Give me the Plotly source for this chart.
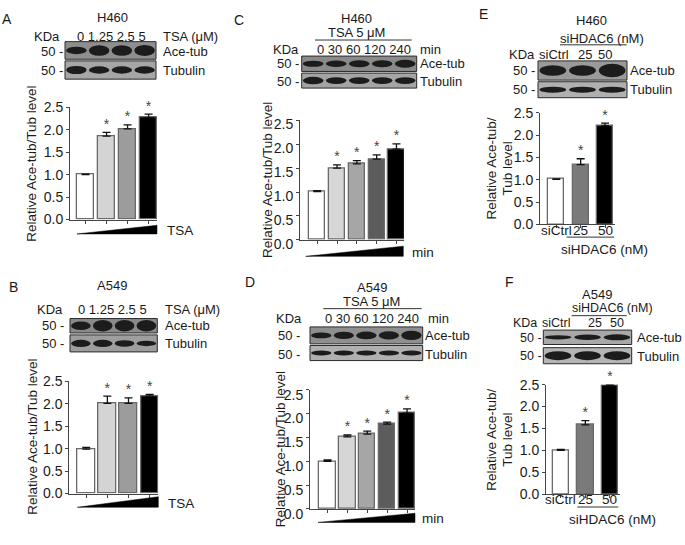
import plotly.graph_objects as go

W, H = 685, 545
def X(p): return p / W
def Y(p): return 1 - p / H

FONT = "Arial, 'Liberation Sans', sans-serif"
TXT = "#1a1a1a"

# ---------------- data ----------------
a_lanes = ["0", "1.25", "2.5", "5"]
a_vals = [1.00, 1.86, 2.02, 2.27]
a_err = [0.01, 0.08, 0.09, 0.08]

b_lanes = ["0", "1.25", "2.5", "5"]
b_vals = [0.99, 2.01, 2.01, 2.17]
b_err = [0.04, 0.16, 0.12, 0.04]

c_lanes = ["0", "30", "60", "120", "240"]
c_vals = [1.01, 1.50, 1.59, 1.69, 1.90]
c_err = [0.02, 0.07, 0.07, 0.09, 0.11]

d_lanes = ["0", "30", "60", "120", "240"]
d_vals = [1.00, 1.51, 1.57, 1.78, 2.01]
d_err = [0.03, 0.04, 0.06, 0.04, 0.09]

e_lanes = ["siCtrl", "25", "50"]
e_vals = [1.01, 1.34, 2.21]
e_err = [0.01, 0.13, 0.06]

f_lanes = ["siCtrl", "25", "50"]
f_vals = [1.00, 1.58, 2.47]
f_err = [0.02, 0.10, 0.03]

y_ticks = [0.0, 0.5, 1.0, 1.5, 2.0, 2.5]

tsa_colors = ["#ffffff", "#d4d4d4", "#9c9c9c", "#000000"]
time_colors = ["#ffffff", "#d6d6d6", "#a6a6a6", "#5c5c5c", "#000000"]
si_colors = ["#ffffff", "#7a7a7a", "#000000"]

# panel geometry (pixels): plot box and x range
panels = [
    dict(key="A", vals=a_vals, err=a_err, colors=tsa_colors, box=(70, 157, 103.3, 220), xr=(-0.74, 3.40), bw=0.81, shift=0),
    dict(key="B", vals=b_vals, err=b_err, colors=tsa_colors, box=(69.3, 158.3, 388.3, 505), xr=(-0.80, 3.41), bw=0.83, shift=0),
    dict(key="C", vals=c_vals, err=c_err, colors=time_colors, box=(300, 404, 117, 241), xr=(-0.87, 4.38), bw=0.81, shift=4),
    dict(key="D", vals=d_vals, err=d_err, colors=time_colors, box=(310, 415, 397, 521), xr=(-0.88, 4.40), bw=0.82, shift=5),
    dict(key="E", vals=e_vals, err=e_err, colors=si_colors, box=(540, 615, 109, 225), xr=(-0.67, 2.41), bw=0.67, shift=0),
    dict(key="F", vals=f_vals, err=f_err, colors=si_colors, box=(546, 620, 391.7, 505.7), xr=(-0.60, 2.41), bw=0.67, shift=0),
]

fig = go.Figure()
layout_axes = {}
for i, p in enumerate(panels, start=1):
    xa = "x" if i == 1 else f"x{i}"
    ya = "y" if i == 1 else f"y{i}"
    n = len(p["vals"])
    idx = list(range(n))
    fig.add_trace(go.Bar(
        x=idx, y=p["vals"], width=p["bw"], xaxis=xa, yaxis=ya,
        marker=dict(color=p["colors"], line=dict(color="#6a6a6a", width=1.3)),
        error_y=dict(type="data", array=p["err"], arrayminus=[0] * n, symmetric=False,
                     color="#111111", thickness=1.3, width=4),
        showlegend=False, cliponaxis=False, hoverinfo="skip"))
    sx = idx[1:]
    sy = [v + e for v, e in zip(p["vals"][1:], p["err"][1:])]
    fig.add_trace(go.Scatter(
        x=sx, y=sy, mode="text", text=["*"] * len(sx), textposition="top center",
        textfont=dict(size=14, color="#444444", family=FONT),
        xaxis=xa, yaxis=ya, showlegend=False, cliponaxis=False, hoverinfo="skip"))
    x0, x1, yt, yb = p["box"]
    xname = "xaxis" if i == 1 else f"xaxis{i}"
    yname = "yaxis" if i == 1 else f"yaxis{i}"
    layout_axes[xname] = dict(
        domain=[X(x0), X(x1)], range=list(p["xr"]), anchor=ya,
        showline=True, linecolor="#444444", linewidth=1, ticks="outside", ticklen=3,
        tickcolor="#444444", tickvals=idx, showticklabels=False,
        showgrid=False, zeroline=False, fixedrange=True)
    layout_axes[yname] = dict(
        domain=[Y(yb), Y(yt)], range=[0, 2.5], anchor=xa,
        tickvals=y_ticks, ticktext=[f"{t:.1f}" for t in y_ticks],
        showline=True, linecolor="#444444", linewidth=1, ticks="outside", ticklen=3,
        tickcolor="#444444", tickfont=dict(size=14, color=TXT, family=FONT),
        ticklabelshift=p["shift"],
        showgrid=False, zeroline=False, fixedrange=True)

shapes = []
annotations = []

def ann(text, x, y, size=13.5, xanchor="center", angle=0, color=TXT):
    annotations.append(dict(text=text, x=X(x), y=Y(y), xref="paper", yref="paper",
                            xanchor=xanchor, yanchor="middle", showarrow=False,
                            borderpad=0, borderwidth=0,
                            textangle=angle, font=dict(size=size, color=color, family=FONT)))

def hline(x0, x1, y, w=1):
    shapes.append(dict(type="line", xref="paper", yref="paper", x0=X(x0), x1=X(x1),
                       y0=Y(y), y1=Y(y), line=dict(color="#333333", width=w)))

def wedge(x0, x1, yt, yb):
    shapes.append(dict(type="path", xref="paper", yref="paper",
                       path=f"M {X(x0)},{Y(yb)} L {X(x1)},{Y(yb)} L {X(x1)},{Y(yt)} Z",
                       fillcolor="#000000", line=dict(color="#000000", width=0.5)))

def blot(x0, x1, y0, y1, bg, bands):
    shapes.append(dict(type="rect", xref="paper", yref="paper", x0=X(x0), x1=X(x1),
                       y0=Y(y1), y1=Y(y0), fillcolor=bg, line=dict(color="#2a2a2a", width=1)))
    n = len(bands)
    lw = (x1 - x0) / n
    cy = (y0 + y1) / 2
    for k, t in enumerate(bands):
        cx = x0 + lw * (k + 0.5)
        bw = lw * 0.9
        bh = (y1 - y0) * t
        shapes.append(dict(type="circle", xref="paper", yref="paper",
                           x0=X(cx - bw / 2), x1=X(cx + bw / 2),
                           y0=Y(cy + bh / 2), y1=Y(cy - bh / 2),
                           fillcolor="#1c1c1c", line=dict(width=0)))

# ---------- Panel A ----------
ann("A", 7, 11, 14)
ann("H460", 112, 10, 13)
ann("KDa", 47, 29.3, 13)
ann(" ".join(a_lanes), 111, 29.3, 13)
ann("TSA (μM)", 163, 29.3, 13, xanchor="left")
blot(65, 156, 35, 53.3, "#8e8e8e", [0.42, 0.6, 0.6, 0.62])
blot(65, 156, 55, 74, "#a6a6a6", [0.45, 0.4, 0.4, 0.4])
ann("50 -", 63, 45, 13, xanchor="right")
ann("50 -", 63, 65, 13, xanchor="right")
ann("Ace-tub", 163, 45, 13, xanchor="left")
ann("Tubulin", 163, 65, 13, xanchor="left")
ann("Relative Ace-tub/Tub level", 32, 162, 13.5, angle=-90)
wedge(77, 157, 226, 235)
ann("TSA", 167, 231.5, 13.5, xanchor="left")

# ---------- Panel B ----------
ann("B", 13, 290, 14)
ann("A549", 111.7, 289, 13)
ann("KDa", 50, 313.3, 13)
ann(" ".join(b_lanes), 112.5, 313.3, 13)
ann("TSA (μM)", 165, 313.3, 13, xanchor="left")
blot(70, 157.3, 323, 338, "#8a8a8a", [0.6, 0.8, 0.8, 0.8])
blot(70, 157.3, 340, 357.7, "#9e9e9e", [0.42, 0.42, 0.38, 0.32])
ann("50 -", 64, 330, 13, xanchor="right")
ann("50 -", 64, 349, 13, xanchor="right")
ann("Ace-tub", 165, 330, 13, xanchor="left")
ann("Tubulin", 165, 349, 13, xanchor="left")
ann("Relative Ace-tub/Tub level", 33, 446, 13.5, angle=-90)
wedge(77.3, 158.3, 508.3, 519.3)
ann("TSA", 168, 515.7, 13.5, xanchor="left")

# ---------- Panel C ----------
ann("C", 239, 13, 14)
ann("H460", 356.7, 10.5, 13)
ann("TSA 5 μM", 356.7, 25.5, 13)
hline(315, 411.7, 33.3)
ann("KDa", 285.5, 43.3, 13)
ann(" ".join(c_lanes), 364, 43.3, 13)
ann("min", 420, 43.3, 13, xanchor="left")
blot(301.7, 416.7, 50, 66, "#8a8a8a", [0.4, 0.42, 0.46, 0.46, 0.52])
blot(301.7, 416.7, 67.7, 83.3, "#a4a4a4", [0.5, 0.46, 0.46, 0.46, 0.46])
ann("50 -", 299, 57.7, 13, xanchor="right")
ann("50 -", 299, 76, 13, xanchor="right")
ann("Ace-tub", 420, 57.7, 13, xanchor="left")
ann("Tubulin", 420, 76, 13, xanchor="left")
ann("Relative Ace-tub/Tub level", 267, 179, 13.5, angle=-90)
wedge(305.7, 403.3, 247.7, 258.3)
ann("min", 411.7, 254.3, 13.5, xanchor="left")

# ---------- Panel D ----------
ann("D", 250, 285, 14)
ann("A549", 371.7, 290.5, 13)
ann("TSA 5 μM", 371.7, 305.5, 13)
hline(323.3, 421.7, 312.7)
ann("KDa", 288.5, 323.3, 13)
ann(" ".join(d_lanes), 372.5, 323.3, 13)
ann("min", 428, 323.3, 13, xanchor="left")
blot(310, 422.7, 331.7, 349.3, "#8f8f8f", [0.35, 0.42, 0.46, 0.5, 0.55])
blot(310, 422.7, 351, 366.7, "#b0b0b0", [0.32, 0.32, 0.32, 0.32, 0.32])
ann("50 -", 300, 341, 13, xanchor="right")
ann("50 -", 300, 360, 13, xanchor="right")
ann("Ace-tub", 425, 341, 13, xanchor="left")
ann("Tubulin", 425, 360, 13, xanchor="left")
ann("Relative Ace-tub/Tub level", 280, 459, 13.5, angle=-90)
wedge(318, 415, 525.5, 535)
ann("min", 421.7, 530.5, 13.5, xanchor="left")

# ---------- Panel E ----------
ann("E", 483, 6, 14)
ann("H460", 591.7, 12.5, 13)
ann("siHDAC6 (nM)", 560, 32, 13, xanchor="left")
hline(560, 626.7, 38.3)
ann("KDa", 534.5, 48.3, 13, xanchor="right")
ann(e_lanes[0], 538.5, 48.3, 13, xanchor="left")
for t, x in zip(e_lanes[1:], [585, 605]):
    ann(t, x, 48.3, 13)
blot(538, 627, 55, 75, "#9a9a9a", [0.55, 0.55, 0.7])
blot(538, 627, 76.7, 93.3, "#b0b0b0", [0.38, 0.38, 0.38])
ann("50 -", 535, 65, 13, xanchor="right")
ann("50 -", 535, 85, 13, xanchor="right")
ann("Ace-tub", 630, 65, 13, xanchor="left")
ann("Tubulin", 630, 85, 13, xanchor="left")
ann("Relative Ace-tub/", 492, 167, 13.5, angle=-90)
ann("Tub level", 508, 167, 13.5, angle=-90)
annotations.extend([dict(text=t, x=k, y=Y(231.7), xref="x5", yref="paper", xanchor="center",
                         yanchor="middle", showarrow=False, borderpad=0,
                         font=dict(size=13.5, color=TXT, family=FONT))
                    for k, t in enumerate(e_lanes)])
hline(566.7, 614, 238.3)
ann("siHDAC6 (nM)", 604, 251, 13.5)

# ---------- Panel F ----------
ann("F", 509, 285, 14)
ann("A549", 596.7, 298.5, 13)
ann("siHDAC6 (nM)", 571.7, 312.5, 12.5, xanchor="left")
hline(571.7, 626.7, 320)
ann("KDa", 537, 328, 12.5, xanchor="right")
ann(f_lanes[0], 541.5, 328, 12.5, xanchor="left")
for t, x in zip(f_lanes[1:], [595, 616.7]):
    ann(t, x, 328, 12.5)
blot(543.3, 631.7, 335, 350, "#a8a8a8", [0.3, 0.38, 0.42])
blot(543.3, 631.7, 353.3, 370, "#b5b5b5", [0.55, 0.55, 0.55])
ann("50 -", 542, 343.5, 12.5, xanchor="right")
ann("50 -", 542, 362, 12.5, xanchor="right")
ann("Ace-tub", 636.7, 343, 13, xanchor="left")
ann("Tubulin", 636.7, 362, 13, xanchor="left")
ann("Relative Ace-tub/", 492, 449, 13.5, angle=-90)
ann("Tub level", 508, 449, 13.5, angle=-90)
annotations.extend([dict(text=t, x=k, y=Y(511.7), xref="x6", yref="paper", xanchor="center",
                         yanchor="middle", showarrow=False, borderpad=0,
                         font=dict(size=13.5, color=TXT, family=FONT))
                    for k, t in enumerate(f_lanes)])
hline(577.3, 618.3, 519)
ann("siHDAC6 (nM)", 612, 532, 13.5)

fig.update_layout(
    width=W, height=H, margin=dict(l=0, r=0, t=0, b=0),
    paper_bgcolor="white", plot_bgcolor="white",
    font=dict(family=FONT, color=TXT),
    shapes=shapes, annotations=annotations, bargap=0, **layout_axes)

fig.write_html("out.html", config={"displayModeBar": False},
               post_script="document.body.style.margin='0px';document.body.style.overflow='hidden';")
